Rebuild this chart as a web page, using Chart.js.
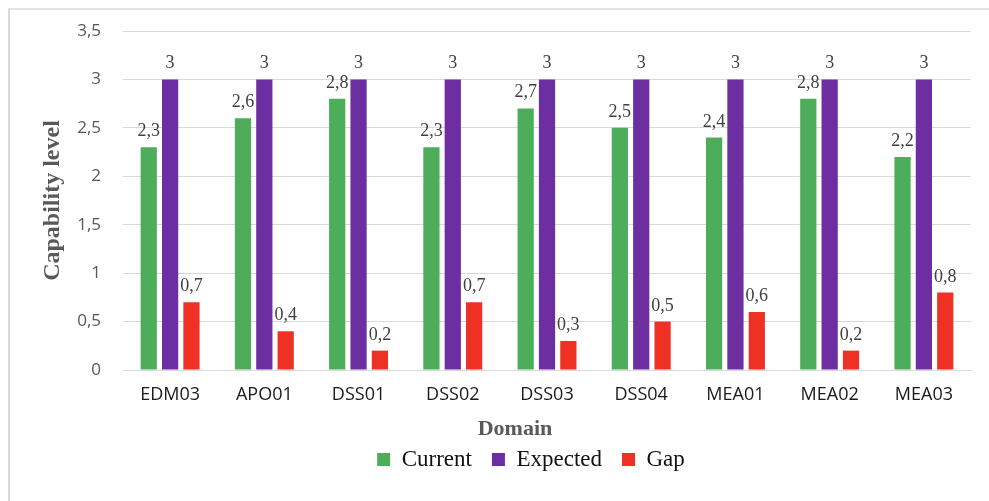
<!DOCTYPE html>
<html>
<head>
<meta charset="utf-8">
<script src="https://cdn.jsdelivr.net/npm/chart.js@4/dist/chart.umd.min.js"></script>
<style>
  html, body { margin: 0; padding: 0; background: #ffffff; }
  #wrap { position: relative; width: 989px; height: 501px; overflow: hidden; }
  #frame { position: absolute; left: 8px; top: 8px; width: 1200px; height: 800px;
           border-left: 2px solid #d9d9d9; border-top: 2px solid #e3e3e3; }
  #chart { position: absolute; left: 0; top: 0; }
</style>
</head>
<body>
<div id="wrap">
  <div id="frame"></div>
  <canvas id="chart" width="989" height="501"></canvas>
</div>
<script>
// Capability levels per COBIT domain
const categories = ['EDM03', 'APO01', 'DSS01', 'DSS02', 'DSS03', 'DSS04', 'MEA01', 'MEA02', 'MEA03'];
const currentLevel = [2.3, 2.6, 2.8, 2.3, 2.7, 2.5, 2.4, 2.8, 2.2];
const expectedLevel = [3, 3, 3, 3, 3, 3, 3, 3, 3];
const gapLevel = [0.7, 0.4, 0.2, 0.7, 0.3, 0.5, 0.6, 0.2, 0.8];
const yTickValues = [0, 0.5, 1, 1.5, 2, 2.5, 3, 3.5];
const yTickLabels = ['0', '0,5', '1', '1,5', '2', '2,5', '3', '3,5'];

const decimalComma = v => String(v).replace('.', ',');

const serif = '"Liberation Serif", "Times New Roman", serif';
const sans = '"Open Sans", sans-serif';
const yTickFont = { family: sans, size: 17 };

// Widest y tick label, so right-aligned labels end a fixed gap before the plot
const measureCtx = document.createElement('canvas').getContext('2d');
measureCtx.font = yTickFont.size + 'px ' + yTickFont.family;
const widestYTick = Math.max(...yTickLabels.map(t => measureCtx.measureText(t).width));
const yTickGap = 22;

// Value labels above each bar
const barValueLabels = {
  id: 'barValueLabels',
  afterDatasetsDraw(chart) {
    const ctx = chart.ctx;
    ctx.save();
    ctx.font = '18px ' + serif;
    ctx.fillStyle = '#404040';
    ctx.textAlign = 'center';
    ctx.textBaseline = 'alphabetic';
    chart.data.datasets.forEach((ds, i) => {
      chart.getDatasetMeta(i).data.forEach((bar, j) => {
        ctx.fillText(decimalComma(ds.data[j]), bar.x, bar.y - 11);
      });
    });
    ctx.restore();
  }
};

// Caption under the category axis
const axisCaption = {
  id: 'axisCaption',
  afterDraw(chart, args, opts) {
    const ctx = chart.ctx;
    ctx.save();
    ctx.font = 'bold 22px ' + serif;
    ctx.fillStyle = '#595959';
    ctx.textAlign = 'center';
    ctx.textBaseline = 'middle';
    ctx.fillText(opts.text, opts.x, chart.chartArea.bottom + opts.offset);
    ctx.restore();
  }
};

new Chart(document.getElementById('chart'), {
  type: 'bar',
  data: {
    labels: categories,
    datasets: [
      { label: 'Current', data: currentLevel, backgroundColor: '#4EAD5B' },
      { label: 'Expected', data: expectedLevel, backgroundColor: '#6C2EA0' },
      { label: 'Gap', data: gapLevel, backgroundColor: '#EE3124' }
    ]
  },
  options: {
    responsive: false,
    animation: false,
    devicePixelRatio: 1,
    categoryPercentage: 0.68,
    barPercentage: 0.76,
    layout: { padding: { top: 31, left: 91, right: 18, bottom: 20 } },
    plugins: {
      tooltip: { enabled: false },
      legend: {
        position: 'bottom',
        labels: {
          boxWidth: 13,
          boxHeight: 13,
          padding: 20,
          color: '#111111',
          font: { family: serif, size: 23 }
        }
      },
      axisCaption: { text: 'Domain', x: 515, offset: 59 }
    },
    scales: {
      x: {
        grid: { display: false, drawTicks: false },
        border: { display: false },
        ticks: {
          padding: 14,
          color: '#1a1a1a',
          font: { family: sans, size: 18 }
        },
        afterFit(s) { s.height = 58; }
      },
      y: {
        min: 0,
        max: 3.5,
        afterBuildTicks(s) { s.ticks = yTickValues.map(v => ({ value: v })); },
        grid: { color: '#d9d9d9', lineWidth: 1, drawTicks: false },
        border: { display: false },
        ticks: {
          mirror: true,
          crossAlign: 'far',
          padding: -(yTickGap + widestYTick),
          color: '#595959',
          font: yTickFont,
          callback: (v) => yTickLabels[yTickValues.indexOf(v)]
        },
        title: {
          display: true,
          text: 'Capability level',
          color: '#595959',
          padding: { top: -53, bottom: 0 },
          font: { family: serif, size: 24, weight: 'bold' }
        },
        afterFit(s) { s.width = 32; }
      }
    }
  },
  plugins: [barValueLabels, axisCaption]
});
</script>
</body>
</html>
